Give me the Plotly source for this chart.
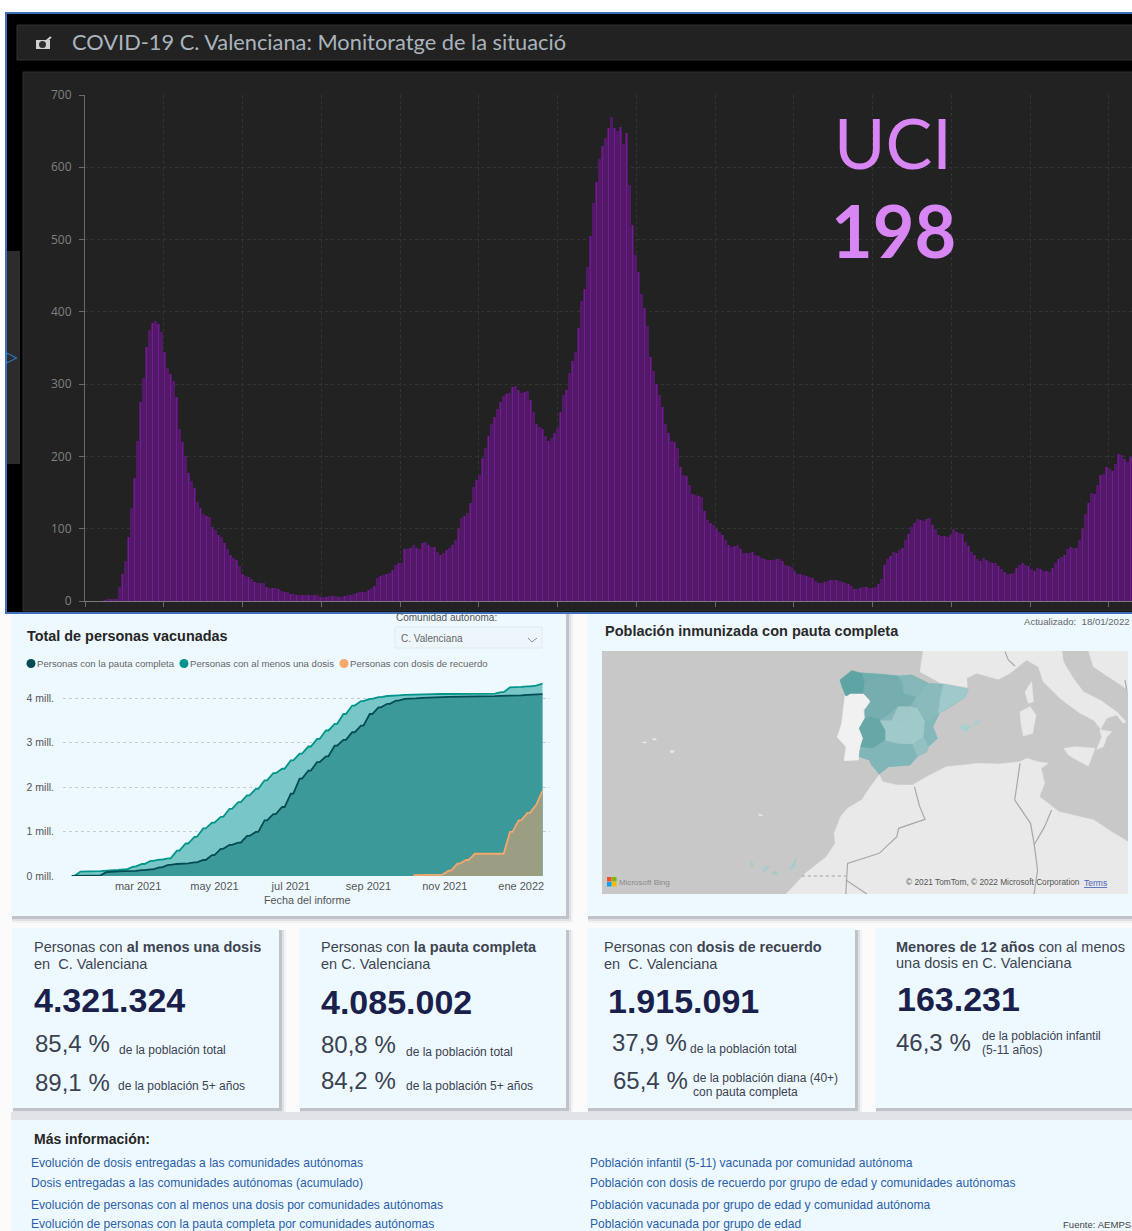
import pandas as pd
import plotly.graph_objects as go

W, H = 1132, 1231

# ---------- UCI occupancy (values read every two days) ----------
uci_start = "2020-02-16"
uci_values = [
    0,0,0,0,0,0,1,2,2,3,
    3,20,38,55,88,128,170,222,275,308,
    352,375,385,387,383,372,345,323,314,305,
    282,238,220,200,177,166,156,137,128,121,
    118,116,102,98,92,88,80,72,64,59,
    57,48,38,34,33,30,26,25,25,25,
    20,18,18,18,16,14,13,12,10,9,
    8,8,8,8,8,8,8,8,6,6,
    6,7,7,7,6,6,7,8,8,9,
    11,12,12,13,15,18,21,32,35,36,
    37,39,43,50,52,53,72,72,74,78,
    74,72,80,82,78,75,75,68,64,66,
    70,73,78,84,100,115,118,122,135,158,
    168,175,198,212,228,245,255,265,275,284,
    286,288,296,298,292,288,289,290,278,262,
    245,241,238,228,222,226,232,240,262,285,
    292,315,332,345,378,415,432,462,505,550,
    580,612,630,640,655,670,655,650,656,632,
    648,575,520,478,455,425,405,380,338,318,
    300,285,268,245,232,222,220,212,185,175,
    173,160,148,146,145,144,125,112,108,105,
    100,96,92,84,78,75,76,77,72,66,
    66,67,68,64,62,60,58,57,57,57,
    58,58,55,50,48,47,41,38,37,36,
    35,33,32,28,25,25,26,28,29,29,
    29,28,26,25,23,21,17,16,18,19,
    19,18,18,20,23,30,50,58,62,68,
    67,71,73,84,93,102,108,114,112,110,
    114,115,105,100,92,90,90,89,92,100,
    96,94,93,82,76,68,64,58,55,60,
    57,54,53,52,48,44,40,37,38,39,
    45,50,52,50,48,44,42,46,44,42,
    41,40,45,52,58,61,64,72,75,74,
    73,85,100,120,135,149,148,160,174,176,
    185,182,180,190,203,202,197,192,199,199,
]
uci_dates = pd.date_range(uci_start, periods=len(uci_values), freq="2D")

# ---------- Vaccination (weekly readings, millions) ----------
vac_dates = list(pd.date_range("2021-01-07", periods=54, freq="7D")) + [pd.Timestamp("2022-01-18")]
one_dose = [0,.10,.105,.11,.12,.135,.15,.21,.27,.34,.37,.395,.57,.73,.88,1.07,1.20,1.33,1.51,1.66,
            1.81,1.96,2.15,2.31,2.41,2.60,2.75,2.91,3.08,3.27,3.42,3.64,3.83,3.93,3.98,4.02,4.045,4.06,
            4.07,4.075,4.08,4.085,4.09,4.09,4.095,4.10,4.10,4.10,4.10,4.13,4.24,4.25,4.26,4.28,4.321]
full_dose = [0,0,.005,.015,.09,.105,.11,.115,.13,.15,.195,.25,.27,.285,.305,.36,.47,.61,.70,.75,
             .90,.99,1.25,1.39,1.55,1.85,2.19,2.37,2.56,2.69,2.93,3.06,3.23,3.38,3.64,3.79,3.87,3.94,
             3.98,3.99,4.005,4.015,4.02,4.025,4.03,4.03,4.03,4.035,4.04,4.05,4.055,4.06,4.07,4.08,4.085]
boost_dates = vac_dates[39:]
booster = [.02,.02,.02,.03,.12,.28,.36,.50,.50,.50,.50,.99,1.25,1.42,1.60,1.915]
vac_tickdates = ["2021-03-01","2021-05-01","2021-07-01","2021-09-01","2021-11-01","2022-01-01"]
vac_ticktext = ["mar 2021","may 2021","jul 2021","sep 2021","nov 2021","ene 2022"]
vac_yticks = [0,1,2,3,4]
vac_yticktext = ["0 mill.","1 mill.","2 mill.","3 mill.","4 mill."]

def plateaus(dates, vals):
    """Weekly readings hold flat over the weekend, no doses are reported then."""
    xs, ys = [], []
    for i, (d, v) in enumerate(zip(dates, vals)):
        xs.append(d); ys.append(v)
        if i < len(vals) - 2:
            xs.append(d + pd.Timedelta(days=2)); ys.append(v)
    return xs, ys

# ---------- Map outlines (three tracing frames converted to the map's own plane) ----------
A = lambda pts: [(830 + x / 3, 650 + y / 3) for x, y in pts]
B = lambda pts: [(960 + x / 3, 650 + y / 3) for x, y in pts]
O = lambda pts: [(602 + (x - 62) * 526 / 1495, 651 + (y - 123) / 3) for x, y in pts]

land = [
 B([(-110,0),(-120,65),(-60,98),(22,112),(20,85),(50,70),(115,88),(150,70),(200,30),(235,50),(250,95),(300,145),(360,190),(400,210),(425,240),(455,245),(440,262),(430,290),(410,298),(425,262),(420,240),(440,205),(470,195),(490,220),(498,215),(470,185),(420,150),(370,125),(340,85),(310,35),(305,0)]),
 B([(385,0),(400,50),(460,90),(505,120),(520,120),(520,0)]),
 O([(850,495),(860,515),(900,525),(945,525),(985,500),(1040,470),(1090,465),(1130,460),(1190,462),(1250,455),(1270,445),(1300,455),(1330,460),(1310,475),(1320,520),(1305,560),(1330,580),(1360,605),(1400,615),(1460,630),(1510,665),(1557,695),(1557,852),(585,852),(610,825),(640,790),(700,740),(725,700),(722,670),(740,620),(760,595),(800,570),(825,530)]),
 B([(195,125),(215,95),(220,155),(205,160)]),
 B([(180,185),(210,170),(228,195),(218,250),(190,258),(183,220)]),
 B([(312,295),(345,290),(405,295),(392,330),(385,348),(360,335),(325,315)]),
 O([(178,396),(188,396),(188,399),(178,399)]), O([(206,386),(216,386),(216,390),(206,390)]),
 O([(255,422),(268,422),(264,428),(258,428)]), O([(507,613),(519,615),(517,618),(509,617)]),
]
portugal = A([(45,135),(62,130),(100,130),(118,150),(122,158),(100,180),(105,205),(88,235),(100,265),(90,295),(85,330),(42,332),(48,290),(22,262),(35,220),(42,170)])
spain_base = A([(30,90),(65,62),(95,70),(150,72),(205,78),(245,75),(295,100),(340,103),(415,118),(405,142),(370,165),(328,190),(308,230),(322,265),(295,290),(290,305),(262,320),(240,345),(175,350),(148,372),(125,345),(118,330),(88,320),(90,298),(92,290),(100,265),(88,235),(105,205),(105,180),(122,155),(118,148),(100,130),(62,130),(48,138),(38,115)])
borders = [
 O([(950,530),(965,590),(980,628),(905,655),(900,680),(850,730),(760,760),(755,852)]),
 O([(1250,460),(1235,570),(1280,640),(1290,700),(1300,780),(1290,852)]),
 O([(1340,600),(1320,650),(1290,705)]),
 O([(755,810),(815,852)]),
 B([(135,5),(145,30),(165,48)]),
 B([(495,90),(500,118)]),
]
western_sahara_border = O([(630,798),(755,798)])
regions = {
 "Galicia":   ("#5fa4a4", A([(30,90),(65,62),(95,70),(105,90),(100,130),(62,130),(48,138),(38,115)])),
 "Asturias":  ("#72adae", A([(95,68),(150,72),(205,78),(210,90),(150,85),(105,95)])),
 "CyL":       ("#76aeb0", A([(105,95),(150,85),(215,88),(220,130),(258,140),(240,170),(205,168),(175,195),(150,208),(118,200),(105,200),(105,180),(122,155),(118,148),(100,130)])),
 "Norte":     ("#85b6b8", A([(205,78),(245,75),(295,100),(270,135),(258,140),(225,130),(220,100)])),
 "Aragon":    ("#8bbabc", A([(295,100),(340,105),(325,190),(295,215),(262,170),(258,140),(270,135)])),
 "Catalunya": ("#9fc9ca", A([(340,103),(415,118),(405,142),(370,165),(325,192),(330,150)])),
 "Madrid":    ("#a0c8c9", A([(185,212),(205,170),(240,170),(245,205),(215,215)])),
 "CLM":       ("#a0c9ca", A([(150,212),(185,212),(215,215),(245,205),(240,170),(262,175),(285,215),(280,260),(250,282),(205,282),(165,278),(165,240)])),
 "Extremadura":("#66a7a7", A([(118,200),(150,208),(150,215),(165,240),(165,270),(130,295),(92,290),(100,265),(88,235),(105,205)])),
 "Valencia":  ("#85b8ba", A([(295,215),(328,190),(308,230),(322,265),(295,290),(282,260),(285,215)])),
 "Murcia":    ("#94c1c2", A([(250,285),(280,262),(295,290),(290,305),(262,320),(245,300)])),
 "Andalucia": ("#80b6b7", A([(90,298),(130,295),(165,272),(205,282),(245,283),(262,320),(240,345),(175,350),(148,372),(125,345),(118,330),(88,320)])),
 "Baleares":  ("#a9d0d1", A([(388,232),(405,222),(425,230),(408,245)])),
 "Menorca":   ("#a9d0d1", A([(432,215),(445,212),(448,222),(435,225)])),
 "Can1":("#a2cccd", O([(595,780),(605,760),(615,745),(610,770)])),
 "Can2":("#a2cccd", O([(518,783),(530,768),(538,768),(525,785)])),
 "Can3":("#a2cccd", O([(547,785),(560,785),(558,795),(548,795)])),
 "Can4":("#a2cccd", O([(485,757),(490,757),(491,770),(486,770)])),
}

px_x = lambda v: v / W
px_y = lambda v: 1 - v / H

shapes, annos = [], []
def rect(x0, y0, x1, y1, fill, line=None, lw=1):
    shapes.append(dict(type="rect", xref="paper", yref="paper", layer="below",
                       x0=px_x(x0), x1=px_x(x1), y0=px_y(y1), y1=px_y(y0),
                       fillcolor=fill, line=dict(color=line or "rgba(0,0,0,0)", width=lw if line else 0)))
def seg(x0, y0, x1, y1, color, lw=1):
    shapes.append(dict(type="line", xref="paper", yref="paper", layer="below",
                       x0=px_x(x0), x1=px_x(x1), y0=px_y(y0), y1=px_y(y1), line=dict(color=color, width=lw)))
def text(x, y, s, size, color, font="Liberation Sans", anchor="left"):
    annos.append(dict(xref="paper", yref="paper", x=px_x(x), y=px_y(y), text=s, showarrow=False,
                      xanchor=anchor, yanchor="middle", align="left",
                      font=dict(size=size, color=color, family=font), borderpad=0, borderwidth=0))
def card(x0, y0, x1, y1):
    for d, a in ((7, .05), (5, .10), (3, .20)):
        rect(x0 + 1, y0 + 2, x1 + d, y1 + d, f"rgba(70,75,95,{a})")
    rect(x0, y0, x1, y1, "#eef9ff")

# lower page
rect(0, 613, W, H, "#fbfbfc")
card(11, 608, 566, 916)
card(587, 608, 1140, 916)
card(12, 928, 279, 1108)
card(299, 928, 566, 1108)
card(587, 928, 855, 1108)
card(875, 928, 1140, 1108)
rect(11, 1112, W, 1120, "#e2e3e7")
rect(11, 1120, W, H, "#eef9ff")

# dark panel
rect(6, 13, W + 5, 613, "#000000", "#3f6fb8", 2)
rect(17, 25, W + 5, 60, "#222222", "#333333", 1)
rect(23, 72, W + 5, 611, "#222222", "#2e2e2e", 1)
rect(7, 251, 20, 464, "#2c2c2c")
annos.append(dict(xref="paper", yref="paper", x=px_x(12), y=px_y(357), text="▷", showarrow=False,
                  xanchor="center", yanchor="middle", borderpad=0,
                  font=dict(size=15, color="#2f8be6", family="DejaVu Sans")))
# title glyph
rect(36, 40, 50, 49, "#d0d0d0")
shapes.append(dict(type="circle", xref="paper", yref="paper", x0=px_x(39), x1=px_x(46), y0=px_y(48), y1=px_y(41),
                   fillcolor="#303030", line=dict(width=0)))
seg(45, 42, 51, 37, "#d0d0d0", 2)
text(72, 42, "COVID-19 C. Valenciana: Monitoratge de la situació", 21.8, "#a9b4bd", "Lato")
text(893, 142, "UCI", 70, "#d986f5", "Lato", "center")
text(893, 230, "<b>198</b>", 72, "#d986f5", "Lato", "center")

# panel texts: area chart
text(27, 636, "<b>Total de personas vacunadas</b>", 14.4, "#252525")
text(446, 617, "Comunidad autónoma:", 10, "#555555", anchor="center")
rect(395, 627, 542, 648, "#edf6fb", "#e2e9ee", 1)
text(401, 638, "C. Valenciana", 10, "#666666")
seg(528, 638, 532, 642, "#8a8f96", 1)
seg(532, 642, 537, 638, "#8a8f96", 1)
legend_items = [(31, 37, "#024c55", "Personas con la pauta completa"),
                (184, 190, "#00958a", "Personas con al menos una dosis"),
                (344, 350, "#f4a86a", "Personas con dosis de recuerdo")]
for dx, tx, c, s in legend_items:
    shapes.append(dict(type="circle", xref="paper", yref="paper", x0=px_x(dx - 4.5), x1=px_x(dx + 4.5),
                       y0=px_y(668), y1=px_y(659), fillcolor=c, line=dict(width=0)))
    text(tx, 663.5, s, 9.6, "#666666")
text(307, 900, "Fecha del informe", 10.8, "#555555", anchor="center")

# map texts
text(605, 631, "<b>Población inmunizada con pauta completa</b>", 14.5, "#2a2a2a")
text(1024, 621, "Actualizado:  18/01/2022", 9.6, "#666666")
text(619, 882, "Microsoft Bing", 8, "#8a8a8a")
text(906, 882, "© 2021 TomTom, © 2022 Microsoft Corporation", 8.3, "#555555")
text(1084, 883, "<u>Terms</u>", 8.5, "#4a63b5")

# KPI text
DK, MID, NUM = "#3d4450", "#3b4252", "#1a1f4b"
kpis = [
 (34, 947, "Personas con <b>al menos una dosis</b>", 14.5, DK),
 (34, 964, "en  C. Valenciana", 14.5, DK),
 (321, 947, "Personas con <b>la pauta completa</b>", 14.5, DK),
 (321, 964, "en C. Valenciana", 14.5, DK),
 (604, 947, "Personas con <b>dosis de recuerdo</b>", 14.5, DK),
 (604, 964, "en  C. Valenciana", 14.5, DK),
 (896, 947, "<b>Menores de 12 años</b> con al menos", 14.5, DK),
 (896, 963, "una dosis en C. Valenciana", 14.5, DK),
 (34, 1000, "<b>4.321.324</b>", 34, NUM),
 (321, 1002, "<b>4.085.002</b>", 34, NUM),
 (608, 1001, "<b>1.915.091</b>", 34, NUM),
 (897, 999, "<b>163.231</b>", 34, NUM),
 (35, 1043, "85,4 %", 24, MID), (35, 1082, "89,1 %", 24, MID),
 (321, 1044, "80,8 %", 24, MID), (321, 1080, "84,2 %", 24, MID),
 (612, 1042, "37,9 %", 24, MID), (613, 1080, "65,4 %", 24, MID),
 (896, 1042, "46,3 %", 24, MID),
 (119, 1050, "de la población total", 12, MID),
 (118, 1086, "de la población 5+ años", 12, MID),
 (406, 1052, "de la población total", 12, MID),
 (406, 1086, "de la población 5+ años", 12, MID),
 (690, 1049, "de la población total", 12, MID),
 (693, 1078, "de la población diana (40+)", 12, MID),
 (693, 1092, "con pauta completa", 12, MID),
 (982, 1036, "de la población infantil", 12, MID),
 (982, 1050, "(5-11 años)", 12, MID),
]
for k in kpis:
    text(*k)

text(34, 1139, "<b>Más información:</b>", 14, "#252525")
LINK = "#2b5fa8"
links = [
 (31, 1163, "Evolución de dosis entregadas a las comunidades autónomas"),
 (31, 1183, "Dosis entregadas a las comunidades autónomas (acumulado)"),
 (31, 1205, "Evolución de personas con al menos una dosis por comunidades autónomas"),
 (31, 1223.5, "Evolución de personas con la pauta completa por comunidades autónomas"),
 (590, 1163, "Población infantil (5-11) vacunada por comunidad autónoma"),
 (590, 1183, "Población con dosis de recuerdo por grupo de edad y comunidades autónomas"),
 (590, 1205, "Población vacunada por grupo de edad y comunidad autónoma"),
 (590, 1223.5, "Población vacunada por grupo de edad"),
]
for x, y, s in links:
    text(x, y, s, 12.1, LINK)
text(1063, 1224, "Fuente: AEMPS", 9.6, "#444444")

fig = go.Figure()

# --- UCI bars ---
day = 86400000
fig.add_bar(x=uci_dates, y=uci_values, width=2 * day, marker=dict(color="#531969", line=dict(width=0)),
            xaxis="x", yaxis="y", hoverinfo="skip", showlegend=False)
fig.add_bar(x=uci_dates[::2], y=uci_values[::2], width=0.6 * day, marker=dict(color="#741c8f", line=dict(width=0)),
            xaxis="x", yaxis="y", hoverinfo="skip", showlegend=False)

# --- Vaccination areas ---
x1, y1 = plateaus(vac_dates, one_dose)
x2, y2 = plateaus(vac_dates, full_dose)
x3, y3 = plateaus(boost_dates, booster)
fig.add_scatter(x=x1, y=y1, mode="lines", fill="tozeroy", fillcolor="#78c6c6",
                line=dict(color="#00958a", width=1.8), xaxis="x2", yaxis="y2", showlegend=False)
fig.add_scatter(x=x2, y=y2, mode="lines", fill="tozeroy", fillcolor="#3c9999",
                line=dict(color="#024c55", width=1.8), xaxis="x2", yaxis="y2", showlegend=False)
fig.add_scatter(x=x3, y=y3, mode="lines", fill="tozeroy", fillcolor="#9c9e84",
                line=dict(color="#f4a86a", width=1.8), xaxis="x2", yaxis="y2", showlegend=False)

# --- Map ---
def poly(pts, fill):
    xs = [p[0] for p in pts] + [pts[0][0]]
    ys = [p[1] for p in pts] + [pts[0][1]]
    fig.add_scatter(x=xs, y=ys, mode="lines", fill="toself", fillcolor=fill, line=dict(color=fill, width=0.5),
                    xaxis="x3", yaxis="y3", showlegend=False, hoverinfo="skip")
rect(602, 651, 1128, 894, "#c8c8c8")
for pts in land:
    poly(pts, "#e9e9e9")
poly(portugal, "#f1f1f1")
poly(spain_base, "#86b8b9")
for c, pts in regions.values():
    poly(pts, c)
for pts in borders:
    fig.add_scatter(x=[p[0] for p in pts], y=[p[1] for p in pts], mode="lines", line=dict(color="#a8a8a8", width=1.2),
                    xaxis="x3", yaxis="y3", showlegend=False, hoverinfo="skip")
fig.add_scatter(x=[p[0] for p in western_sahara_border], y=[p[1] for p in western_sahara_border], mode="lines",
                line=dict(color="#a0a0a0", width=1, dash="dot"), xaxis="x3", yaxis="y3", showlegend=False, hoverinfo="skip")
# Microsoft logo
for (a, b, c) in ((607, 877, "#f25022"), (612, 877, "#7fba00"), (607, 882, "#00a4ef"), (612, 882, "#ffb900")):
    shapes.append(dict(type="rect", xref="paper", yref="paper", layer="above", x0=px_x(a), x1=px_x(a + 4.5),
                       y0=px_y(b + 4.5), y1=px_y(b), fillcolor=c, line=dict(width=0)))

fig.update_layout(
    width=W, height=H, margin=dict(l=0, r=0, t=0, b=0, pad=0, autoexpand=False), autosize=False,
    paper_bgcolor="#ffffff", plot_bgcolor="rgba(0,0,0,0)",
    barmode="overlay", bargap=0, showlegend=False,
    shapes=shapes, annotations=annos,
    xaxis=dict(domain=[px_x(85), 1], type="date", range=["2020-02-15", str((pd.Timestamp("2020-02-15") + pd.Timedelta(days=698)).date())],
               tick0="2020-02-15", dtick=52.5 * day, showticklabels=False, ticks="outside", ticklen=5, tickcolor="#6a6a6a",
               showgrid=True, gridcolor="#343434", griddash="3px,3px", gridwidth=1, showline=True, linecolor="#7a7a7a",
               zeroline=False, anchor="y"),
    yaxis=dict(domain=[px_y(601), px_y(95)], range=[0, 700], dtick=100, ticks="outside", ticklen=5, tickcolor="#6a6a6a",
               tickfont=dict(size=12, color="#808080", family="Open Sans"), showgrid=True, gridcolor="#343434", griddash="3px,3px",
               showline=True, linecolor="#6a6a6a", zeroline=False, anchor="x", ticklabelstandoff=5),
    xaxis2=dict(domain=[px_x(63), px_x(550)], type="date", range=["2020-12-31", "2022-01-24"], tickvals=vac_tickdates,
                ticktext=vac_ticktext, tickfont=dict(size=11, color="#555555", family="Liberation Sans"), showgrid=False,
                showline=False, zeroline=False, anchor="y2", ticks="", ticklabelstandoff=2),
    yaxis2=dict(domain=[px_y(876), px_y(680)], range=[0, 196 / 44.5], tickvals=vac_yticks, ticktext=vac_yticktext,
                tickfont=dict(size=10.5, color="#555555", family="Liberation Sans"), showgrid=True, gridcolor="#c5ccd0",
                griddash="dot", zeroline=False, anchor="x2", ticks="", ticklabelstandoff=8),
    xaxis3=dict(domain=[px_x(602), px_x(1128)], range=[602, 1128], visible=False, anchor="y3"),
    yaxis3=dict(domain=[px_y(894), px_y(651)], range=[894, 651], visible=False, anchor="x3"),
)

fig.write_html("out.html", post_script="document.body.style.margin='0';document.body.style.overflow='hidden';",
               config=dict(displayModeBar=False))
